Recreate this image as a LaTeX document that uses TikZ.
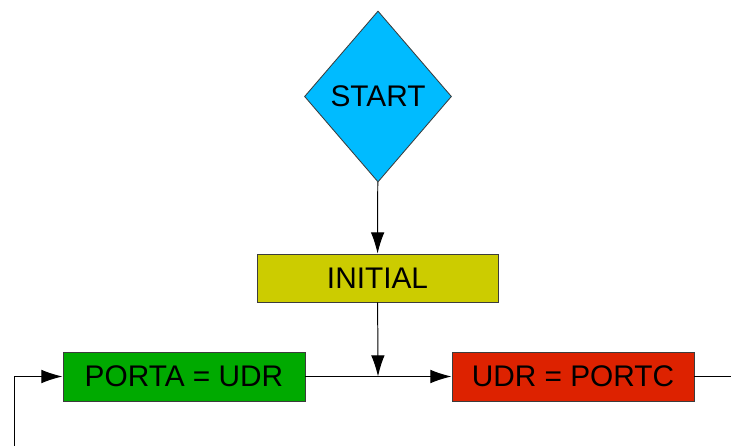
\documentclass[tikz,border=0pt]{standalone}
\usepackage{fontspec}
\setmainfont{Liberation Sans}
\usepackage{tikz}
\usetikzlibrary{shapes.geometric}
\usetikzlibrary{arrows.meta}
\definecolor{skyblue}{RGB}{0,187,255}
\definecolor{olive}{RGB}{204,204,0}
\definecolor{leafgreen}{RGB}{0,170,0}
\definecolor{brickred}{RGB}{221,34,0}
\definecolor{edgegray}{RGB}{60,60,60}

\begin{document}
\begin{tikzpicture}[x=0.025cm,y=-0.025cm]
\tikzstyle{lblock}=[rectangle,draw=edgegray,line width=0.6pt,inner sep=0pt,minimum height=1.225cm,minimum width=6.05cm,font=\fontsize{21.2}{24}\selectfont]
\tikzstyle{ldecision}=[diamond,draw=edgegray,line width=0.6pt,inner sep=0pt,minimum width=3.675cm,minimum height=4.275cm,font=\fontsize{21.2}{24}\selectfont]
\tikzstyle{lflow}=[line width=0.7pt,-{Latex[length=0.53cm,width=0.34cm]}]

\useasboundingbox (0,0) rectangle (731,446);

\node [ldecision, fill=skyblue] (S) at (378,96.5) {START};
\node [lblock, fill=olive, minimum height=1.2cm, minimum width=6.025cm] (I) at (377.5,278) {INITIAL};
\node [lblock, fill=leafgreen] (P) at (184,376.5) {PORTA = UDR};
\node [lblock, fill=brickred] (U) at (573,376.5) {UDR = PORTC};

\coordinate (J) at (378,376.5);
\coordinate (R) at (731,376.5);
\coordinate (B) at (14,446);
\coordinate (L) at (14,376.5);

\draw[lflow] (S) -- (I);
\draw[lflow] (I) -- (J);
\draw[lflow] (P) -- (U);
\draw[line width=0.7pt] (U) -- (R);
\draw[lflow] (B) -- (L) -- (P);

\end{tikzpicture}
\end{document}
